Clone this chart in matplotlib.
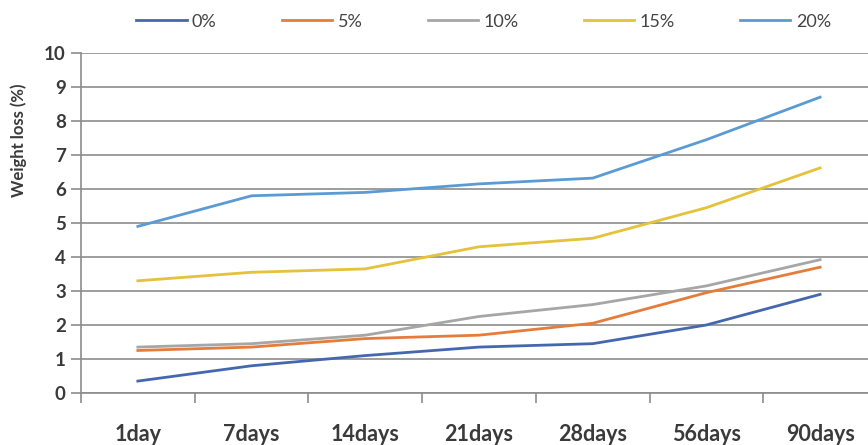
import matplotlib.pyplot as plt
import numpy as np

# Weight loss over storage time for each replacement level
days = ['1day', '7days', '14days', '21days', '28days', '56days', '90days']
series_names = ['0%', '5%', '10%', '15%', '20%']
loss_0 = [0.35, 0.80, 1.10, 1.35, 1.45, 2.00, 2.90]
loss_5 = [1.25, 1.35, 1.60, 1.70, 2.05, 2.95, 3.70]
loss_10 = [1.35, 1.45, 1.70, 2.25, 2.60, 3.15, 3.92]
loss_15 = [3.30, 3.55, 3.65, 4.30, 4.55, 5.45, 6.62]
loss_20 = [4.90, 5.80, 5.90, 6.15, 6.32, 7.45, 8.70]
y_ticks = list(range(0, 11))

colors = ['#4468B0', '#E57C3A', '#A6A6A6', '#E4C23A', '#5B9BD5']

plt.rcParams['font.family'] = ['Lato', 'DejaVu Sans']

fig = plt.figure(figsize=(8.68, 4.45), dpi=100)
ax = fig.add_axes([0.0933, 0.1169, 0.917, 0.764])

x = np.arange(len(days))
for name, vals, c in zip(series_names, [loss_0, loss_5, loss_10, loss_15, loss_20], colors):
    ax.plot(x, vals, color=c, linewidth=2.0, label=name, zorder=3)

ax.set_xlim(-0.5, len(days) - 0.5)
ax.set_ylim(0, 10)
ax.set_yticks(y_ticks)
ax.set_yticklabels([str(t) for t in y_ticks], fontsize=13.5, fontweight='bold', color='#3a3a3a')
ax.yaxis.grid(True, color='#8c8c8c', linewidth=1.2)
ax.set_axisbelow(True)

# category boundaries carry the tick marks, labels sit at the centres
ax.set_xticks(np.arange(-0.5, len(days), 1))
ax.set_xticklabels([])
ax.set_xticks(x, minor=True)
ax.set_xticklabels(days, minor=True, fontsize=15.5, fontweight='bold', color='#3a3a3a')
ax.tick_params(axis='x', which='major', length=7, color='#8c8c8c', width=1.2)
ax.tick_params(axis='x', which='minor', length=0, pad=22)
ax.tick_params(axis='y', length=7, color='#8c8c8c', width=1.2, pad=4)

for side in ['top', 'right']:
    ax.spines[side].set_visible(False)
ax.spines['left'].set_color('#8c8c8c')
ax.spines['left'].set_linewidth(1.2)
ax.spines['bottom'].set_color('#8c8c8c')
ax.spines['bottom'].set_linewidth(1.2)

fig.text(0.022, 0.685, 'Weight loss (%)', rotation=90, ha='center', va='center',
         fontsize=12, fontweight='bold', color='#3a3a3a')

leg = fig.legend(loc='center', bbox_to_anchor=(0.557, 0.951), ncol=5, frameon=False,
                 fontsize=13, handlelength=2.8, handletextpad=0.3, columnspacing=3.6)
for t in leg.get_texts():
    t.set_color('#444444')

fig.savefig('out.png', dpi=100)
